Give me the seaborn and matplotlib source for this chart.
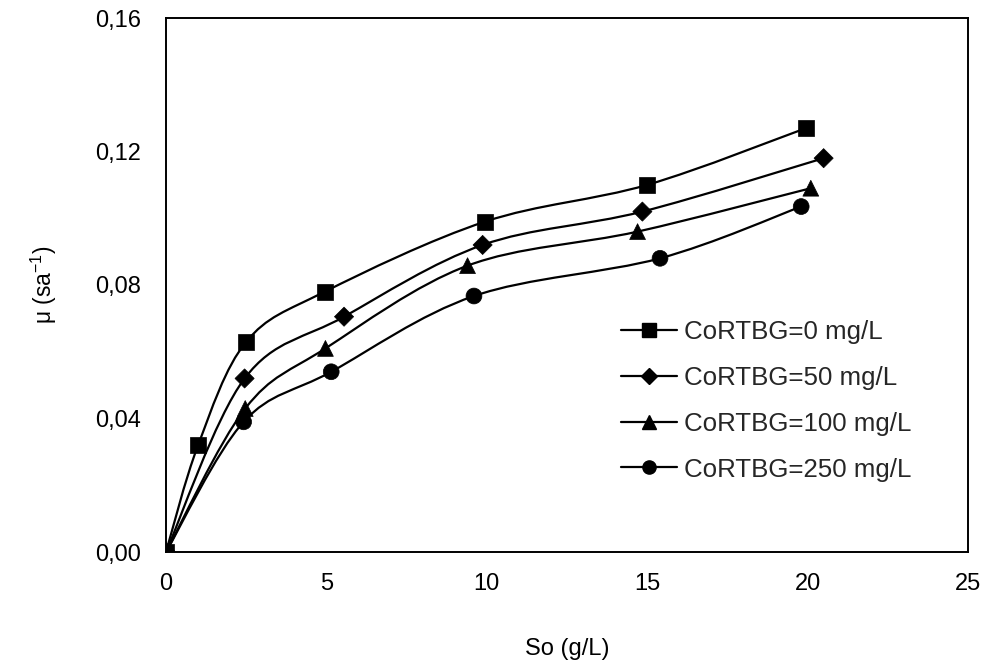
import numpy as np
import pandas as pd
import matplotlib
matplotlib.use("Agg")
import matplotlib.pyplot as plt
from matplotlib.path import Path
from matplotlib.patches import PathPatch
from matplotlib.lines import Line2D
import seaborn as sns

# ---- data ----
labels = ["CoRTBG=0 mg/L", "CoRTBG=50 mg/L", "CoRTBG=100 mg/L", "CoRTBG=250 mg/L"]
so_0 = [0.0, 1.0, 2.5, 4.95, 9.95, 15.0, 19.95]
mu_0 = [0.0, 0.032, 0.063, 0.078, 0.099, 0.110, 0.127]
so_50 = [0.0, 2.45, 5.55, 9.87, 14.85, 20.5]
mu_50 = [0.0, 0.052, 0.0705, 0.092, 0.102, 0.118]
so_100 = [0.0, 2.47, 4.97, 9.4, 14.7, 20.1]
mu_100 = [0.0, 0.043, 0.061, 0.0858, 0.096, 0.109]
so_250 = [0.0, 2.42, 5.15, 9.6, 15.4, 19.8]
mu_250 = [0.0, 0.039, 0.054, 0.0767, 0.088, 0.1035]
x_ticks = [0, 5, 10, 15, 20, 25]
y_ticks = [0.00, 0.04, 0.08, 0.12, 0.16]
y_tick_labels = ["0,00", "0,04", "0,08", "0,12", "0,16"]

series = [(so_0, mu_0), (so_50, mu_50), (so_100, mu_100), (so_250, mu_250)]
markers = ["s", "D", "^", "o"]
msizes = [130, 95, 130, 130]

rows = []
for lab, (xs, ys) in zip(labels, series):
    for a, b in zip(xs, ys):
        rows.append({"So": a, "mu": b, "series": lab})
df = pd.DataFrame(rows)

sns.set_theme(style="white")
plt.rcParams["font.family"] = ["Liberation Sans", "DejaVu Sans"]
plt.rcParams["mathtext.fontset"] = "custom"
plt.rcParams["mathtext.rm"] = "Liberation Sans"
plt.rcParams["mathtext.it"] = "Liberation Sans:italic"

fig = plt.figure(figsize=(9.92, 6.69), dpi=100)
ax = fig.add_axes([166 / 992, (669 - 552) / 669, (968 - 166) / 992, (552 - 18) / 669])


def smooth_path(xs, ys):
    pts = np.column_stack([xs, ys]).astype(float)
    n = len(pts)
    verts = [pts[0]]
    codes = [Path.MOVETO]
    for i in range(n - 1):
        p0 = pts[i - 1] if i > 0 else pts[i]
        p1 = pts[i]
        p2 = pts[i + 1]
        p3 = pts[i + 2] if i + 2 < n else pts[i + 1]
        c1 = p1 + (p2 - p0) / 6.0
        c2 = p2 - (p3 - p1) / 6.0
        verts += [c1, c2, p2]
        codes += [Path.CURVE4] * 3
    return Path(verts, codes)


for (xs, ys) in series:
    ax.add_patch(PathPatch(smooth_path(xs, ys), facecolor="none",
                           edgecolor="black", lw=1.6, zorder=2))

sns.scatterplot(data=df, x="So", y="mu", hue="series", style="series",
                markers=dict(zip(labels, markers)),
                palette=dict(zip(labels, ["black"] * 4)),
                size="series", sizes=dict(zip(labels, msizes)),
                edgecolor="black", linewidth=0.5, legend=False, ax=ax, zorder=3)

ax.set_xlim(0, 25)
ax.set_ylim(0, 0.16)
ax.set_xticks(x_ticks)
ax.set_xticklabels([str(t) for t in x_ticks])
ax.set_yticks(y_ticks)
ax.set_yticklabels(y_tick_labels)
ax.tick_params(axis="both", direction="in", length=7, width=1.3,
               labelsize=17, colors="black")
ax.tick_params(axis="y", pad=18)
ax.tick_params(axis="x", pad=15)
for s in ax.spines.values():
    s.set_color("black")
    s.set_linewidth(1.4)
ax.set_xlabel("So (g/L)", fontsize=17, labelpad=31, color="black")
ax.set_ylabel("μ (sa$^{-1}$)", fontsize=16.5, labelpad=26, color="black")

handles = [Line2D([0], [0], color="black", lw=1.6, marker=m,
                  markersize=ms, markerfacecolor="black", markeredgecolor="black")
           for m, ms in zip(markers, [9.5, 8, 10, 9.5])]
ax.legend(handles, labels, loc="upper left", bbox_to_anchor=(0.554, 0.453),
          frameon=False, fontsize=18.6, handlelength=2.17, handletextpad=0.27,
          labelspacing=0.84, borderaxespad=0)

fig.savefig("out.png", dpi=100)
